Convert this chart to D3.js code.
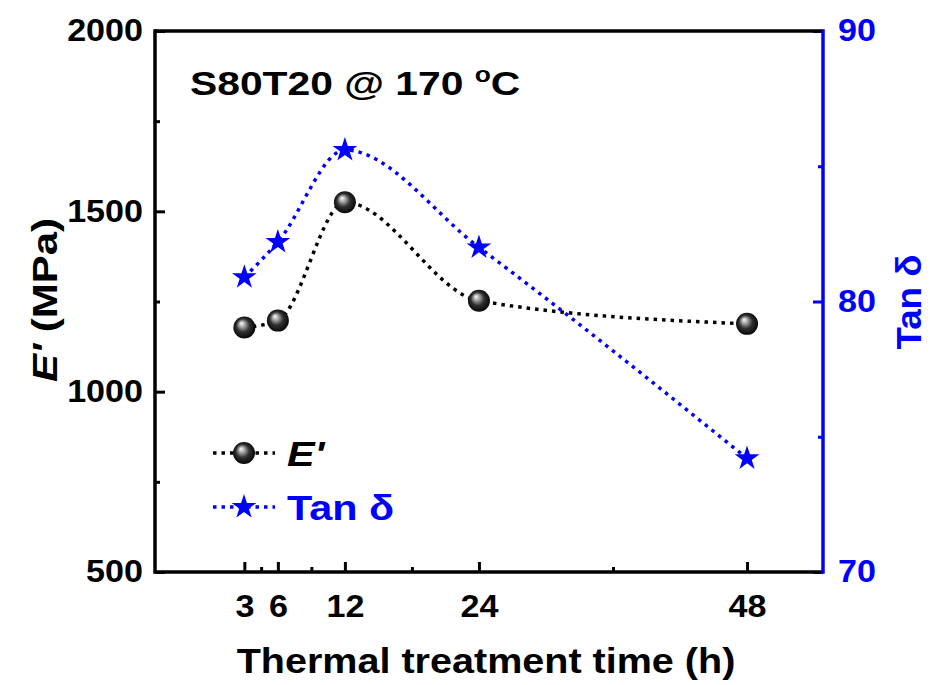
<!DOCTYPE html>
<html>
<head>
<meta charset="utf-8">
<script src="https://cdn.jsdelivr.net/npm/d3@7"></script>
<style>
  body { margin: 0; background: #fff; }
  text { font-family: Arial, "Liberation Sans", sans-serif; font-weight: bold; }
</style>
</head>
<body>
<svg id="chart"></svg>
<script>
// data
var hours    = [3, 6, 12, 24, 48];
var modulus  = [1178, 1197, 1525, 1252, 1188];   // E' (MPa)
var tanDelta = [80.9, 82.2, 85.6, 82.0, 74.2];   // Tan delta
var xTicks = [3, 6, 12, 24, 48];
var xMinor = [4.5, 9, 18, 36];
var yTicks = [500, 1000, 1500, 2000];
var yMinor = [750, 1250, 1750];
var y2Ticks = [70, 80, 90];
var y2Minor = [75, 85];

var blue = "#0000ff";
var margin = {top: 31, right: 107, bottom: 113, left: 155};
var width  = 930 - margin.left - margin.right;
var height = 685 - margin.top - margin.bottom;

var x  = d3.scaleLinear().domain([-5, 54.8]).range([0, width]);
var y  = d3.scaleLinear().domain([500, 2000]).range([height, 0]);
var y2 = d3.scaleLinear().domain([70, 90]).range([height, 0]);

var svg = d3.select("#chart")
  .attr("width", 930)
  .attr("height", 685);

var defs = svg.append("defs");
var grad = defs.append("radialGradient")
  .attr("id", "ball")
  .attr("cx", "50%").attr("cy", "50%").attr("r", "55%")
  .attr("fx", "36%").attr("fy", "30%");
grad.append("stop").attr("offset", "0%").attr("stop-color", "#ffffff");
grad.append("stop").attr("offset", "22%").attr("stop-color", "#b0b0b0");
grad.append("stop").attr("offset", "55%").attr("stop-color", "#303030");
grad.append("stop").attr("offset", "100%").attr("stop-color", "#000000");

var g = svg.append("g")
  .attr("transform", "translate(" + margin.left + "," + margin.top + ")");

// stretched text helper (the source font is wider than Arial)
function label(parent, px, py, str, size, sx, extra) {
  return parent.append("text")
    .attr("transform", "translate(" + px + "," + py + ")" + (extra || "") + " scale(" + sx + ",1)")
    .style("font-size", size + "px")
    .text(str);
}

// axes
function styleAxis(sel, color, size) {
  sel.select(".domain").remove();
  sel.selectAll("line").attr("stroke", color).attr("stroke-width", 3);
  sel.selectAll("text")
    .attr("fill", color)
    .style("font-size", size + "px")
    .style("font-family", "Arial, 'Liberation Sans', sans-serif")
    .style("font-weight", "bold");
}

var xAxis = g.append("g")
  .attr("transform", "translate(0," + height + ")")
  .call(d3.axisBottom(x).tickValues(xTicks).tickSizeInner(-10).tickSizeOuter(0).tickPadding(23));
styleAxis(xAxis, "#000", 31);
xAxis.selectAll("text").attr("transform", "scale(1.1,1)");

var xAxisMinor = g.append("g")
  .attr("transform", "translate(0," + height + ")")
  .call(d3.axisBottom(x).tickValues(xMinor).tickSizeInner(-5).tickSizeOuter(0).tickFormat(""));
styleAxis(xAxisMinor, "#000", 31);

var yAxis = g.append("g")
  .call(d3.axisLeft(y).tickValues(yTicks).tickFormat(d3.format("d"))
    .tickSizeInner(-10).tickSizeOuter(0).tickPadding(11));
styleAxis(yAxis, "#000", 31);
yAxis.selectAll("text").attr("x", null).attr("transform", "translate(-12,0) scale(1.1,1)");

var yAxisMinor = g.append("g")
  .call(d3.axisLeft(y).tickValues(yMinor).tickSizeInner(-5).tickSizeOuter(0).tickFormat(""));
styleAxis(yAxisMinor, "#000", 31);

var y2Axis = g.append("g")
  .attr("transform", "translate(" + width + ",0)")
  .call(d3.axisRight(y2).tickValues(y2Ticks).tickFormat(d3.format("d"))
    .tickSizeInner(-10).tickSizeOuter(0).tickPadding(15));
styleAxis(y2Axis, blue, 31);
y2Axis.selectAll("text").attr("x", null).attr("transform", "translate(15,0) scale(1.1,1)");

var y2AxisMinor = g.append("g")
  .attr("transform", "translate(" + width + ",0)")
  .call(d3.axisRight(y2).tickValues(y2Minor).tickSizeInner(-5).tickSizeOuter(0).tickFormat(""));
styleAxis(y2AxisMinor, blue, 31);

// frame
g.append("line").attr("x1", 0).attr("y1", 0).attr("x2", width).attr("y2", 0)
  .attr("stroke", "#000").attr("stroke-width", 3.5);
g.append("line").attr("x1", 0).attr("y1", height).attr("x2", width).attr("y2", height)
  .attr("stroke", "#000").attr("stroke-width", 3.5);
g.append("line").attr("x1", 0).attr("y1", -1.75).attr("x2", 0).attr("y2", height + 1.75)
  .attr("stroke", "#000").attr("stroke-width", 3.5);
g.append("line").attr("x1", width).attr("y1", -1.75).attr("x2", width).attr("y2", height + 1.75)
  .attr("stroke", blue).attr("stroke-width", 3.5);

// lines
var lineE = d3.line()
  .x(function(d, i) { return x(hours[i]); })
  .y(function(d) { return y(d); })
  .curve(d3.curveMonotoneX);
var lineT = d3.line()
  .x(function(d, i) { return x(hours[i]); })
  .y(function(d) { return y2(d); })
  .curve(d3.curveMonotoneX);

g.append("path")
  .datum(tanDelta)
  .attr("d", lineT)
  .attr("fill", "none")
  .attr("stroke", blue)
  .attr("stroke-width", 3.5)
  .attr("stroke-dasharray", "3.5,5");

g.append("path")
  .datum(modulus)
  .attr("d", lineE)
  .attr("fill", "none")
  .attr("stroke", "#000")
  .attr("stroke-width", 3.5)
  .attr("stroke-dasharray", "3.5,5");

var star = d3.symbol().type(d3.symbolStar).size(190);

g.selectAll(".star")
  .data(tanDelta)
  .enter()
  .append("path")
  .attr("class", "star")
  .attr("d", star)
  .attr("fill", blue)
  .attr("transform", function(d, i) { return "translate(" + x(hours[i]) + "," + y2(d) + ")"; });

g.selectAll(".ball")
  .data(modulus)
  .enter()
  .append("circle")
  .attr("class", "ball")
  .attr("r", 11)
  .attr("fill", "url(#ball)")
  .attr("cx", function(d, i) { return x(hours[i]); })
  .attr("cy", function(d) { return y(d); });

// legend
var leg = svg.append("g");
leg.append("line").attr("x1", 213).attr("x2", 275).attr("y1", 453).attr("y2", 453)
  .attr("stroke", "#000").attr("stroke-width", 3.5).attr("stroke-dasharray", "3.5,5");
leg.append("circle").attr("cx", 244).attr("cy", 453).attr("r", 11).attr("fill", "url(#ball)");
var tE = label(leg, 287, 466, "", 36, 1.15);
tE.append("tspan").style("font-style", "italic").text("E'");

leg.append("line").attr("x1", 213).attr("x2", 275).attr("y1", 507).attr("y2", 507)
  .attr("stroke", blue).attr("stroke-width", 3.5).attr("stroke-dasharray", "3.5,5");
leg.append("path").attr("d", star).attr("fill", blue)
  .attr("transform", "translate(244,507)");
label(leg, 287, 520, "Tan \u03b4", 36, 1.15).attr("fill", blue);

// title
var title = label(svg, 190, 95, "S80T20 @ 170 ", 34, 1.2);
title.append("tspan").attr("dy", -13).style("font-size", "22px").text("o");
title.append("tspan").attr("dy", 13).text("C");

// axis titles
label(svg, 486, 673, "Thermal treatment time (h)", 35, 1.13).attr("text-anchor", "middle");

var yTitle = label(svg, 57, 300, "", 35, 1.2, " rotate(-90)").attr("text-anchor", "middle");
yTitle.append("tspan").style("font-style", "italic").text("E'");
yTitle.append("tspan").text("\u00a0(MPa)");

label(svg, 921, 302, "Tan \u03b4", 35, 1.05, " rotate(-90)")
  .attr("text-anchor", "middle")
  .attr("fill", blue);
</script>
</body>
</html>
